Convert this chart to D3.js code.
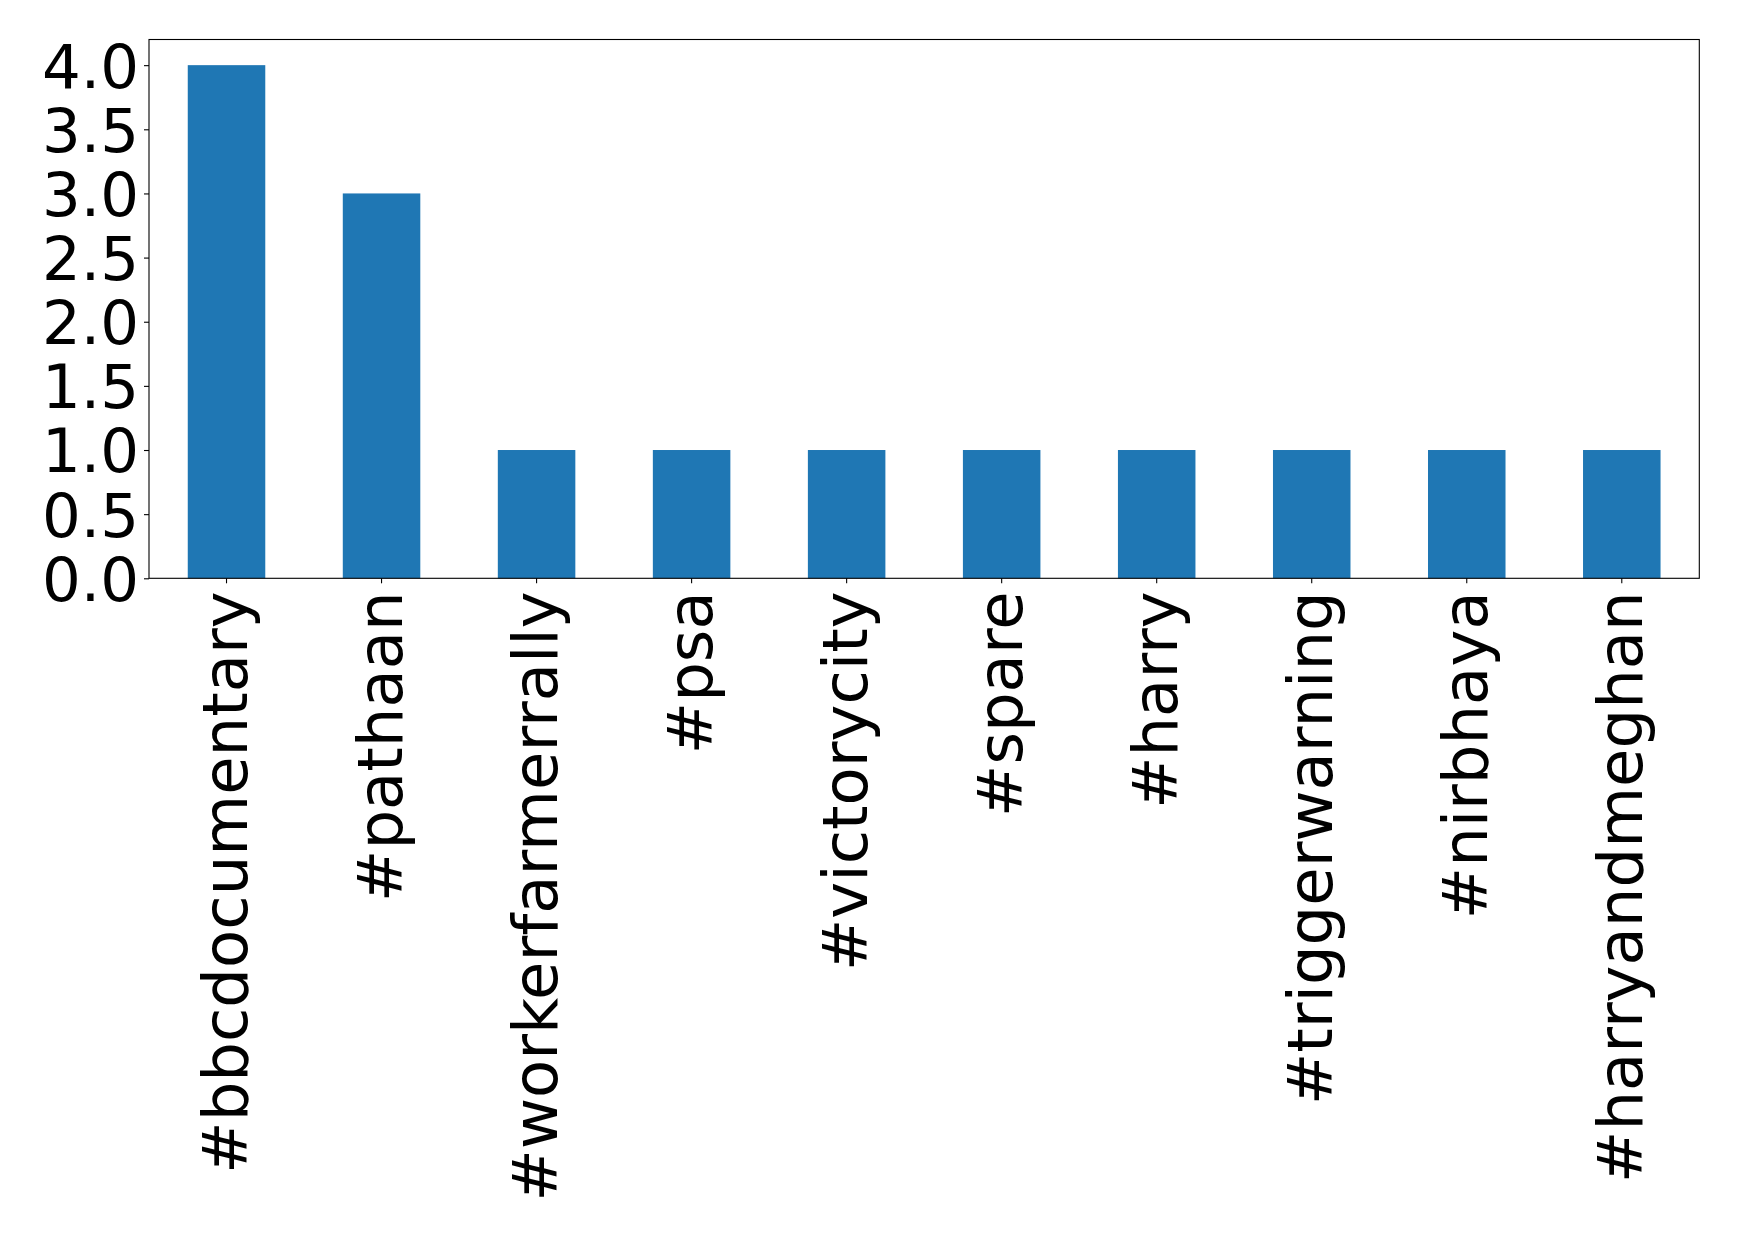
<!DOCTYPE html>
<html>
<head>
<meta charset="utf-8">
<script src="https://cdn.jsdelivr.net/npm/d3@7"></script>
<style>
  html, body { margin: 0; padding: 0; background: #fff; }
  svg { display: block; }
  text { font-family: "DejaVu Sans", sans-serif; fill: #000; }
</style>
</head>
<body>
<svg id="chart" width="1739" height="1238"></svg>
<script>
const categories = ["#bbcdocumentary", "#pathaan", "#workerfarmerrally", "#psa", "#victorycity", "#spare", "#harry", "#triggerwarning", "#nirbhaya", "#harryandmeghan"];
const values = [4, 3, 1, 1, 1, 1, 1, 1, 1, 1];
const yTicks = [0, 0.5, 1.0, 1.5, 2.0, 2.5, 3.0, 3.5, 4.0];

const svg = d3.select("#chart");
const margin = { left: 149, top: 39.5, right: 1739 - 1699.3, bottom: 1238 - 578.3 };
const W = 1739 - margin.left - margin.right;
const H = 1238 - margin.top - margin.bottom;

const x = d3.scaleBand().domain(categories).range([0, W]).paddingInner(0.5).paddingOuter(0.25);
const y = d3.scaleLinear().domain([0, 4.2]).range([H, 0]);

const g = svg.append("g").attr("transform", `translate(${margin.left},${margin.top})`);

g.selectAll("rect.bar").data(categories).enter().append("rect")
  .attr("class", "bar")
  .attr("x", d => x(d))
  .attr("width", x.bandwidth())
  .attr("y", (d, i) => y(values[i]))
  .attr("height", (d, i) => H - y(values[i]))
  .attr("fill", "#1f77b4");

const fsY = 61;
const fsX = 62.5;

const yAxis = g.append("g").call(d3.axisLeft(y).tickValues(yTicks).tickFormat(d3.format(".1f")).tickSize(5).tickPadding(5));
yAxis.select(".domain").remove();
yAxis.selectAll("line").attr("stroke", "#000").attr("stroke-width", 1.1);
yAxis.selectAll("text").style("font-size", fsY + "px").attr("dy", "0.36em");

const xAxis = g.append("g").attr("transform", `translate(0,${H})`)
  .call(d3.axisBottom(x).tickSize(5).tickPadding(5));
xAxis.select(".domain").remove();
xAxis.selectAll("line").attr("stroke", "#000").attr("stroke-width", 1.1);
xAxis.selectAll("text")
  .style("font-size", fsX + "px")
  .attr("transform", "rotate(-90)")
  .attr("text-anchor", "end")
  .attr("x", -13)
  .attr("y", 0)
  .attr("dy", "0.33em");

g.append("rect").attr("x", 0).attr("y", 0).attr("width", W).attr("height", H)
  .attr("fill", "none").attr("stroke", "#000").attr("stroke-width", 1.1);
</script>
</body>
</html>
